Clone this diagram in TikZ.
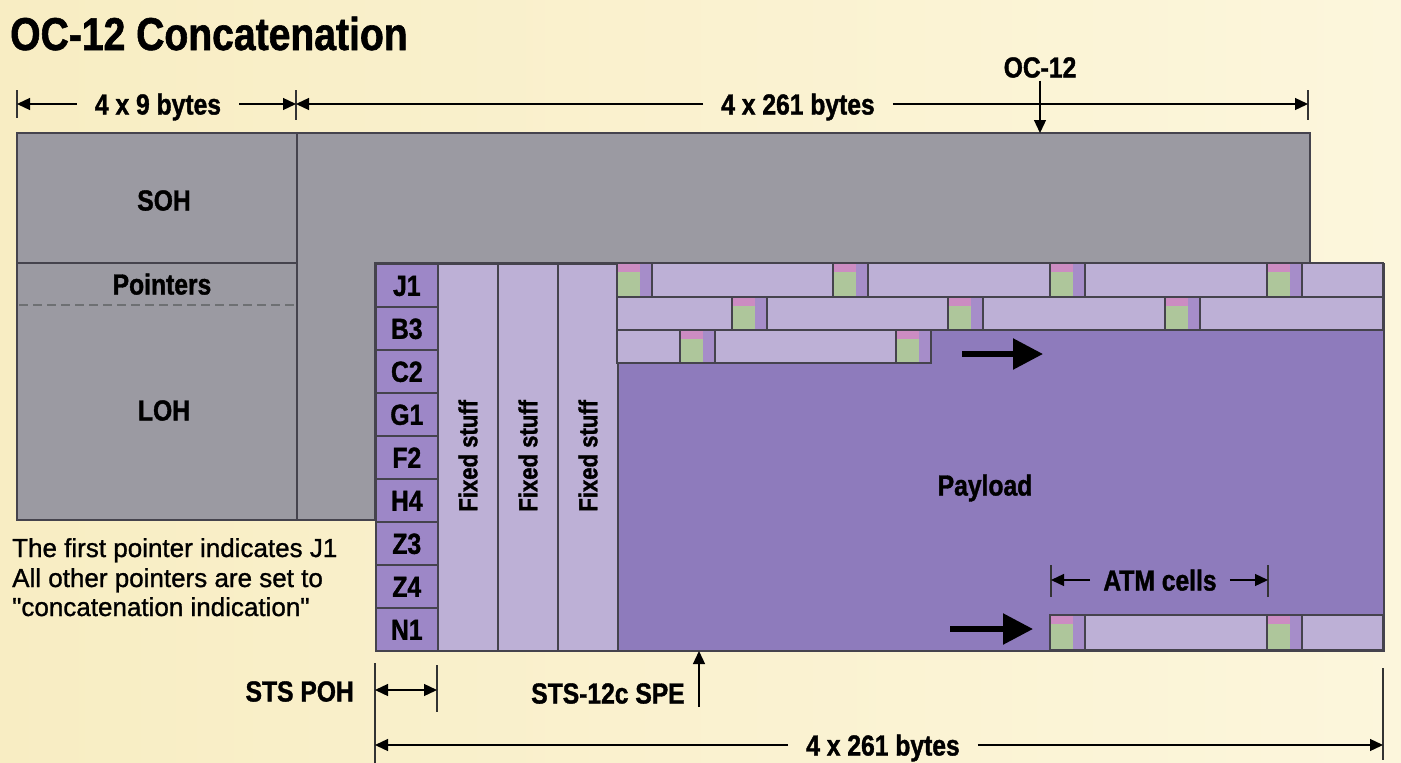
\documentclass[tikz,border=0pt]{standalone}
\usepackage{fontspec}
\setmainfont{Liberation Sans}
\newfontfamily\condfont[FakeStretch=0.85, BoldFeatures={FakeBold=1.3}]{Liberation Sans}
\newfontfamily\notefont[FakeBold=1.1]{Liberation Sans}
\usetikzlibrary{arrows.meta}
\definecolor{bgL}{HTML}{F8EDC3}
\definecolor{bgR}{HTML}{FCF6DC}
\definecolor{grayC}{HTML}{9B9AA2}
\definecolor{lineC}{HTML}{45434D}
\definecolor{jC}{HTML}{9D87C7}
\definecolor{fC}{HTML}{BDB0D6}
\definecolor{pC}{HTML}{8E7BBC}
\definecolor{cellP}{HTML}{A68DC9}
\definecolor{cellG}{HTML}{AEC69B}
\definecolor{cellK}{HTML}{CC8CC2}
\definecolor{dashC}{HTML}{6E7073}
\begin{document}
\begin{tikzpicture}[x=1pt,y=-1pt,
  lab/.style={font=\condfont\bfseries\fontsize{29}{29}\selectfont, inner sep=0pt, text height=21pt, text depth=0pt},
  dimlab/.style={lab, inner xsep=18pt},
  ln/.style={draw=lineC, line width=1.6pt},
  dim/.style={draw=black, line width=1.3pt},
  tip/.style={-{Triangle[length=13pt,width=12pt]}},
  tick/.style={draw=black!80, line width=1.3pt},
  big/.style={draw=black, line width=5.5pt, -{Triangle[length=30pt,width=30pt]}},
  pics/atmcell/.style={code={
     \fill[cellP] (0,0) rectangle (35,#1);
     \fill[cellG] (0,9) rectangle (23,#1);
     \fill[cellK] (0,0) rectangle (23,9);
     \draw[ln] (0,0) rectangle (35,#1);
  }},
]
\useasboundingbox (0,0) rectangle (1401,763);
\shade[left color=bgL, right color=bgR] (0,0) rectangle (1401,763);

% title
\node[font=\condfont\bfseries\fontsize{46}{46}\selectfont, anchor=base west, inner sep=0pt] (title) at (10,50) {OC-12 Concatenation};

% top dimensions
\coordinate (L1) at (17,104);
\coordinate (M1) at (296,104);
\coordinate (R1) at (1308,104);
\draw[tick] (17,90) -- (17,118);
\draw[tick] (296,90) -- (296,120);
\draw[tick] (1308,90) -- (1308,120);
\node[dimlab] (d1) at (158,104) {4 x 9 bytes};
\node[dimlab] (d2) at (798,104) {4 x 261 bytes};
\draw[dim,tip] (d1) -- (L1);
\draw[dim,tip] (d1) -- (M1);
\draw[dim,tip] (d2) -- (M1);
\draw[dim,tip] (d2) -- (R1);

% gray OC-12 frame
\fill[grayC] (17,133) -- (1310,133) -- (1310,263) -- (375,263) -- (375,520) -- (17,520) -- cycle;
\draw[ln] (17,133) -- (1310,133) -- (1310,263) -- (375,263) -- (375,520) -- (17,520) -- cycle;
\draw[ln] (297,133) -- (297,520);
\draw[ln] (17,263) -- (297,263);
\draw[dashC, line width=2pt, dash pattern=on 9pt off 5pt] (19,305) -- (295,305);
\node[lab] (soh) at (164,200) {SOH};
\node[lab] (ptr) at (162,284) {Pointers};
\node[lab] (loh) at (164,410) {LOH};

% OC-12 pointer
\node[lab, inner ysep=3pt] (oc) at (1040,67) {OC-12};
\coordinate (ocT) at (1040,133);
\draw[dim,tip] (oc) -- (ocT);

% payload area
\node[ln, fill=pC, minimum width=766pt, minimum height=387pt, inner sep=0pt, anchor=north west] (pay) at (617,263) {};
\node[lab] (payl) at (985,485) {Payload};

% path overhead column
\foreach \t [count=\i from 0] in {J1,B3,C2,G1,F2,H4,Z3,Z4,N1}
  \node[lab, ln, fill=jC, minimum width=62pt, minimum height=43pt, anchor=north west] (r\i) at (375,263+43*\i) {\t};

% fixed stuff columns
\foreach \x [count=\i] in {437,497,557}
  \node[ln, fill=fC, minimum width=60pt, minimum height=387pt, inner sep=0pt, anchor=north west] (fx\i) at (\x,263) {};
\foreach \i in {1,2,3}
  \node[lab, rotate=90, font=\condfont\bfseries\fontsize{26}{26}\selectfont, text height=19pt] (fxl\i) at ([yshift=1.5pt]fx\i.center) {Fixed stuff};

% ATM cell rows
\draw[ln, fill=fC] (617,263) rectangle (1383,297);
\foreach \x in {617,833,1050,1267} \pic at (\x,263) {atmcell=34};
\draw[ln, fill=fC] (617,297) rectangle (1383,330);
\foreach \x in {732,948,1165} \pic at (\x,297) {atmcell=33};
\draw[ln, fill=fC] (617,330) rectangle (930,363);
\foreach \x in {680,896} \pic at (\x,330) {atmcell=33};
\draw[ln, fill=fC] (1050,615) rectangle (1383,650);
\foreach \x in {1050,1267} \pic at (\x,615) {atmcell=35};

% big arrows
\coordinate (a1s) at (962,354);
\coordinate (a1e) at (1043,354);
\draw[big] (a1s) -- (a1e);
\coordinate (a2s) at (950,629);
\coordinate (a2e) at (1033,629);
\draw[big] (a2s) -- (a2e);

% ATM cells dimension
\node[lab, inner xsep=13pt] (atm) at (1160,580) {ATM cells};
\coordinate (atmL) at (1051,580);
\coordinate (atmR) at (1268,580);
\draw[tick] (1051,565) -- (1051,597);
\draw[tick] (1268,565) -- (1268,597);
\draw[dim,tip] (atm) -- (atmL);
\draw[dim,tip] (atm) -- (atmR);

% notes
\node[font=\notefont\fontsize{26}{26}\selectfont, anchor=base west, inner sep=0pt] (n1) at (12,557) {The first pointer indicates J1};
\node[font=\notefont\fontsize{26}{26}\selectfont, anchor=base west, inner sep=0pt] (n2) at (12,587) {All other pointers are set to};
\node[font=\notefont\fontsize{26}{26}\selectfont, anchor=base west, inner sep=0pt] (n3) at (12,616) {"concatenation indication"};

% STS POH
\node[lab, anchor=east] (poh) at (354,691) {STS POH};
\coordinate (pohL) at (375,690);
\coordinate (pohR) at (437,690);
\draw[tick] (375,663) -- (375,763);
\draw[tick] (437,665) -- (437,712);
\draw[tick] (1383,668) -- (1383,760);
\draw[dim,{Triangle[length=13pt,width=12pt]}-{Triangle[length=13pt,width=12pt]}] (pohL) -- (pohR);

% STS-12c SPE
\node[lab] (spe) at (608,693) {STS-12c SPE};
\coordinate (speB) at (699,707);
\coordinate (speT) at (699,651);
\draw[dim,tip] (speB) -- (speT);

% bottom dimension
\node[dimlab] (d3) at (883,745) {4 x 261 bytes};
\coordinate (L3) at (375,745);
\coordinate (R3) at (1383,745);
\draw[dim,tip] (d3) -- (L3);
\draw[dim,tip] (d3) -- (R3);
\end{tikzpicture}
\end{document}
